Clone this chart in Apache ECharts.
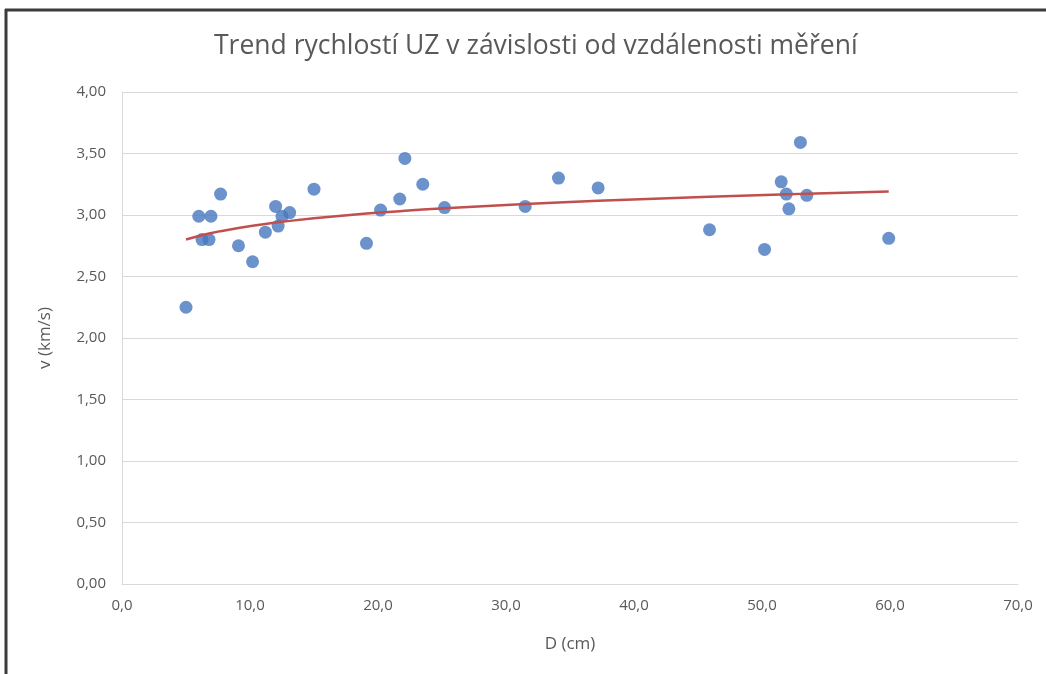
<!DOCTYPE html>
<html>
<head>
<meta charset="utf-8">
<script src="https://cdn.jsdelivr.net/npm/echarts@6/dist/echarts.min.js"></script>
<style>
html,body{margin:0;padding:0;background:#fff;}
#chart{width:1046px;height:674px;}
</style>
</head>
<body>
<div id="chart"></div>
<script>
// Distance D (cm)
const distances = [5.0, 6.0, 6.25, 6.8, 6.95, 7.7, 9.1, 10.2, 11.2, 12.0, 12.2, 12.5, 13.1, 15.0, 19.1, 20.2, 21.7, 22.1, 23.5, 25.2, 31.5, 34.1, 37.2, 45.9, 50.2, 51.5, 51.9, 52.1, 53.0, 53.5, 59.9];
// Velocity v (km/s)
const velocities = [2.25, 2.99, 2.80, 2.80, 2.99, 3.17, 2.75, 2.62, 2.86, 3.07, 2.91, 2.99, 3.02, 3.21, 2.77, 3.04, 3.13, 3.46, 3.25, 3.06, 3.07, 3.30, 3.22, 2.88, 2.72, 3.27, 3.17, 3.05, 3.59, 3.16, 2.81];
const xTicks = [0, 10, 20, 30, 40, 50, 60, 70];
const yTicks = [0, 0.5, 1, 1.5, 2, 2.5, 3, 3.5, 4];

const TITLE = 'Trend rychlostí UZ v závislosti od vzdálenosti měření';
const X_NAME = 'D (cm)';
const Y_NAME = 'v (km/s)';

// Logarithmic trendline (least squares on ln x), as in the spreadsheet
const n = distances.length;
let sx = 0, sy = 0, sxx = 0, sxy = 0;
for (let i = 0; i < n; i++) {
  const lx = Math.log(distances[i]);
  sx += lx; sy += velocities[i]; sxx += lx * lx; sxy += lx * velocities[i];
}
const slope = (n * sxy - sx * sy) / (n * sxx - sx * sx);
const intercept = (sy - slope * sx) / n;
const trendX = Array.from(new Set(distances)).sort((a, b) => a - b);
const trendData = trendX.map(x => [x, intercept + slope * Math.log(x)]);

const scatterData = distances.map((d, i) => [d, velocities[i]]);

const FONT = "'Open Sans', sans-serif";
const chart = echarts.init(document.getElementById('chart'), null, {renderer: 'canvas'});
chart.setOption({
  animation: false,
  backgroundColor: '#ffffff',
  title: {
    text: TITLE,
    left: 209,
    top: 28,
    textStyle: {fontFamily: FONT, fontSize: 26.5, fontWeight: 'normal', color: '#595959'}
  },
  grid: {left: 122, right: 28, top: 92, bottom: 90},
  xAxis: {
    type: 'value', min: 0, max: 70, interval: 10,
    name: X_NAME, nameLocation: 'middle', nameGap: 52,
    nameTextStyle: {fontFamily: FONT, fontSize: 17, color: '#595959'},
    axisLine: {show: true, lineStyle: {color: '#d9d9d9', width: 1}},
    axisTick: {show: false},
    splitLine: {show: false},
    axisLabel: {fontFamily: FONT, fontSize: 15, color: '#595959', margin: 14,
      formatter: v => v.toFixed(1).replace('.', ',')}
  },
  yAxis: {
    type: 'value', min: 0, max: 4, interval: 0.5,
    name: Y_NAME, nameLocation: 'middle', nameGap: 68, nameRotate: 90,
    nameTextStyle: {fontFamily: FONT, fontSize: 17, color: '#595959'},
    axisLine: {show: true, lineStyle: {color: '#d9d9d9', width: 1}},
    axisTick: {show: false},
    splitLine: {show: true, lineStyle: {color: '#d9d9d9', width: 1}},
    axisLabel: {fontFamily: FONT, fontSize: 15, color: '#595959', margin: 16,
      formatter: v => v.toFixed(2).replace('.', ',')}
  },
  series: [
    {
      type: 'scatter', data: scatterData, symbol: 'circle', symbolSize: 13,
      itemStyle: {color: '#4677be'}, z: 3
    },
    {
      type: 'line', data: trendData, showSymbol: false, smooth: false,
      lineStyle: {color: '#c0504d', width: 2.5}, z: 4
    }
  ],
  graphic: [
    {type: 'line', shape: {x1: 5, y1: 10, x2: 1046, y2: 10}, style: {stroke: '#3c3c3c', lineWidth: 3}},
    {type: 'line', shape: {x1: 6, y1: 9, x2: 6, y2: 674}, style: {stroke: '#3c3c3c', lineWidth: 3}}
  ]
});
</script>
</body>
</html>
